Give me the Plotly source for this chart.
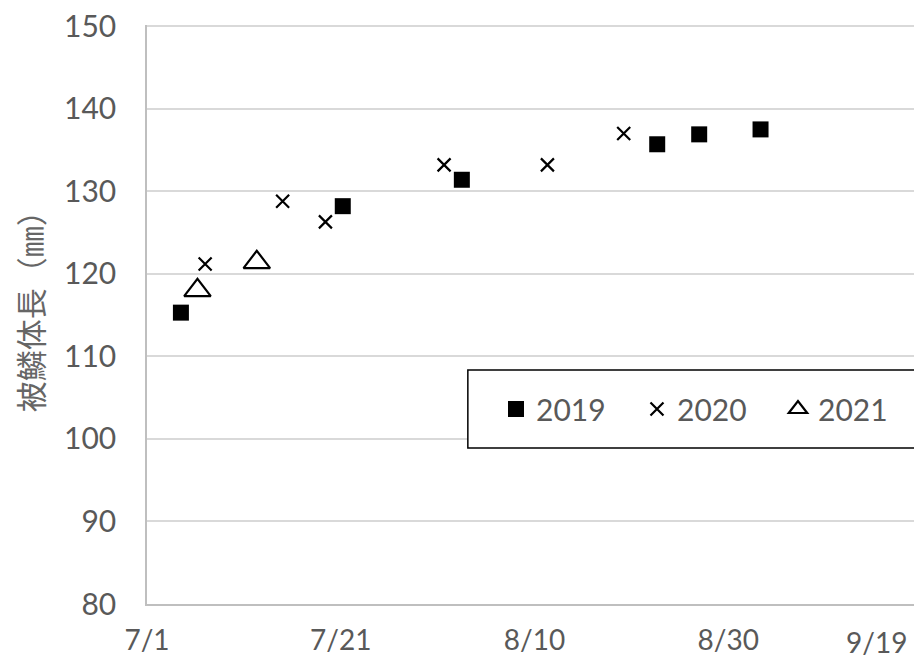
import plotly.graph_objects as go

# Dates (month/day, plotted on a common year)
dates_2019 = ["2021-07-04 12:00", "2021-07-21 05:00", "2021-08-02 12:00", "2021-08-22 16:00", "2021-08-27", "2021-09-02 08:00"]
vals_2019 = [115.3, 128.2, 131.4, 135.7, 136.9, 137.5]

dates_2020 = ["2021-07-07", "2021-07-15", "2021-07-19 10:00", "2021-07-31 16:00", "2021-08-11 08:00", "2021-08-19 05:00"]
vals_2020 = [121.2, 128.8, 126.3, 133.2, 133.2, 137.0]

dates_2021 = ["2021-07-06 05:00", "2021-07-12 08:00"]
vals_2021 = [118.0, 121.4]

x_tick_vals = ["2021-07-01", "2021-07-21", "2021-08-10", "2021-08-30"]
x_tick_text = ["7/1", "7/21", "8/10", "8/30"]
last_tick_val = "2021-09-19"
last_tick_text = "9/19"
x_range = ["2021-07-01", "2021-09-19"]
y_range = [80, 150.15]
y_tick_vals = [80, 90, 100, 110, 120, 130, 140, 150]
y_title = "被鱗体長（㎜）"

label_color = "#595959"
font_family = "Lato, Open Sans, sans-serif"

fig = go.Figure()
fig.add_trace(go.Scatter(
    x=dates_2019, y=vals_2019, mode="markers", name="2019",
    marker=dict(symbol="square", size=16, color="black", line=dict(width=0)),
))
fig.add_trace(go.Scatter(
    x=dates_2020, y=vals_2020, mode="markers", name="2020",
    marker=dict(symbol="x-thin-open", size=13, color="black", line=dict(width=2.2, color="black")),
))
fig.add_trace(go.Scatter(
    x=dates_2021, y=vals_2021, mode="markers", name="2021",
    marker=dict(symbol="triangle-up-open", size=23, color="black", line=dict(width=2.2, color="black")),
))

# The page body has an 8px default margin; size the figure so it fills the window.
fig.update_layout(
    width=914, height=658,
    margin=dict(l=139, r=0, t=17, b=62, autoexpand=False),
    paper_bgcolor="white", plot_bgcolor="white",
    font=dict(family=font_family, size=28, color=label_color),
    showlegend=True,
    legend=dict(
        orientation="h",
        x=0.4503, xanchor="left",
        y=0.3368, yanchor="middle",
        bgcolor="rgba(0,0,0,0)", borderwidth=0,
        font=dict(family=font_family, size=30, color=label_color),
        itemsizing="trace",
        entrywidth=96,
    ),
    shapes=[dict(
        type="rect", xref="paper", yref="paper",
        x0=0.414, x1=0.991, y0=0.2694, y1=0.404,
        line=dict(color="black", width=1.5), fillcolor="white", layer="above",
    )],
)
fig.update_xaxes(
    type="date", range=x_range, automargin=False,
    tickmode="array", tickvals=x_tick_vals, ticktext=x_tick_text,
    showgrid=False, showline=True, linecolor="#bfbfbf", linewidth=1.5,
    ticks="", ticklabelstandoff=11, zeroline=False,
    ticklabeloverflow="allow", tickfont=dict(size=28),
)
fig.update_yaxes(
    range=y_range, tickmode="array", tickvals=y_tick_vals, automargin=False,
    showgrid=True, gridcolor="#d9d9d9", gridwidth=1.5,
    showline=True, linecolor="#bfbfbf", linewidth=1.5,
    ticks="", ticklabelstandoff=23, zeroline=False,
    ticklabeloverflow="allow", tickfont=dict(size=30),
)
fig.add_annotation(
    x=last_tick_val, y=0, xref="x", yref="paper",
    text=last_tick_text, showarrow=False,
    xanchor="right", yanchor="top", xshift=-13, yshift=-19,
    font=dict(family=font_family, size=28, color=label_color),
)
fig.add_annotation(
    x=-0.152, y=0.518, xref="paper", yref="paper",
    text=y_title, showarrow=False, textangle=-90,
    xanchor="center", yanchor="middle",
    font=dict(family="Noto Sans CJK JP", size=31, color="#666666"),
)

fig.write_html("out.html")
